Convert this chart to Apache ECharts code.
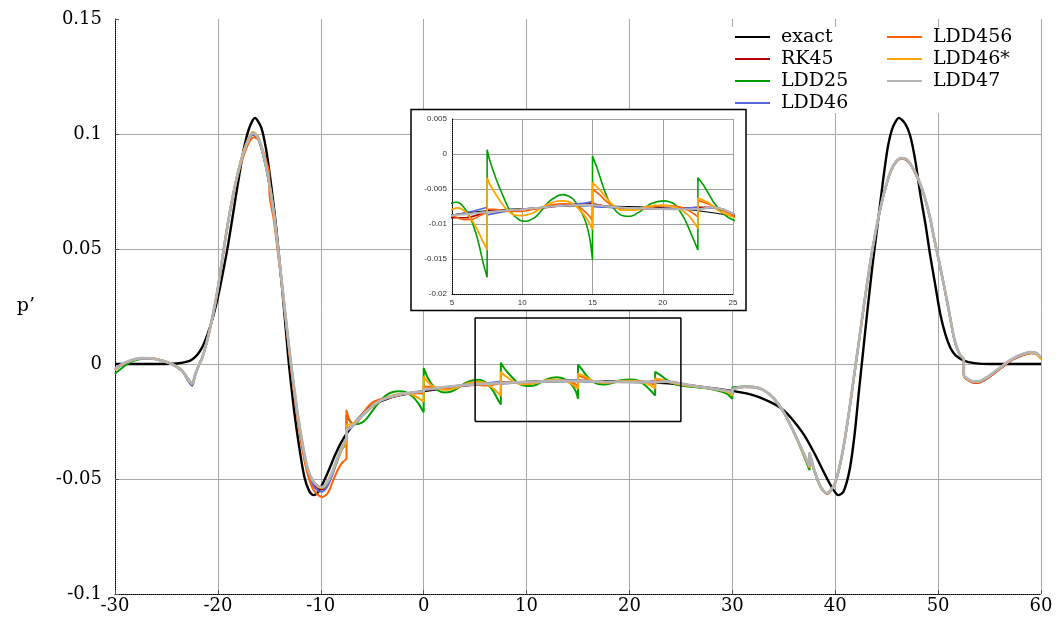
<!DOCTYPE html>
<html>
<head>
<meta charset="utf-8">
<script src="https://cdn.jsdelivr.net/npm/echarts@6/dist/echarts.min.js"></script>
<style>
  html, body { margin: 0; padding: 0; background: #fff; }
  #chart { width: 1061px; height: 626px; }
</style>
</head>
<body>
<div id="chart"></div>
<script>
// x, p' pairs (interfaces at multiples of 7.5 appear twice)
const exact = [
  [-30, 0], [-26, 0], [-24, 0.0002], [-23, 0.001], [-22.5, 0.002], [-22, 0.004], [-21.5, 0.0075], [-21, 0.013],
  [-20.5, 0.02], [-20, 0.029], [-19.5, 0.04], [-19, 0.052], [-18.5, 0.066], [-18, 0.08], [-17.5, 0.093], [-17, 0.102],
  [-16.4, 0.107], [-15.8, 0.103], [-15.3, 0.093], [-14.8, 0.077], [-14.3, 0.058], [-13.8, 0.035], [-13.4, 0.015],
  [-13.1, 0], [-12.6, -0.02], [-12.1, -0.036], [-11.6, -0.049], [-11.1, -0.0555], [-10.7, -0.057], [-10.2, -0.0553],
  [-9.7, -0.051], [-9.2, -0.046], [-8.6, -0.0395], [-8, -0.034], [-7.3, -0.029], [-6.5, -0.0245], [-5.5, -0.0198],
  [-4.5, -0.0168], [-3.5, -0.015], [-2.5, -0.0137], [-1.2, -0.0126], [0, -0.0118], [2.5, -0.0102], [5, -0.0087],
  [7.5, -0.0081], [10, -0.0078], [12.5, -0.0075], [15, -0.0074], [17.5, -0.0075], [20, -0.0077], [22.5, -0.0081],
  [25, -0.0089], [27.5, -0.0102], [30, -0.0117], [32, -0.0135], [34, -0.0172], [35, -0.0202], [36, -0.025],
  [37, -0.031], [38, -0.039], [39, -0.048], [39.7, -0.0538], [40.3, -0.057], [40.8, -0.0555], [41.4, -0.046],
  [41.9, -0.03], [42.3, -0.012], [42.7, 0.005], [43.1, 0.022], [43.6, 0.042], [44.1, 0.06], [44.6, 0.078],
  [45.1, 0.094], [45.6, 0.103], [46.2, 0.107], [46.8, 0.1045], [47.3, 0.099], [47.8, 0.088], [48.3, 0.073],
  [48.8, 0.06], [49.2, 0.048], [49.7, 0.035], [50.2, 0.022], [50.7, 0.013], [51.2, 0.007], [51.7, 0.0038],
  [52.5, 0.0015], [53.5, 0.0004], [55, 0], [60, 0]
];

const rk45 = [
  [-30, -0.0026], [-29.3, -0.0003], [-28.5, 0.0013], [-27.5, 0.0024], [-26.5, 0.0024], [-25.5, 0.0015], [-24.5, 0],
  [-23.5, -0.003], [-22.5, -0.0086], [-22.2, -0.0046], [-21.9, -0.001], [-21.5, 0.003], [-21, 0.011], [-20.5, 0.021],
  [-20, 0.033], [-19.5, 0.048], [-19, 0.062], [-18.5, 0.074], [-18, 0.084], [-17.5, 0.092], [-17, 0.0975],
  [-16.6, 0.0998], [-16.1, 0.098], [-15.6, 0.091], [-15.1, 0.0805], [-14.6, 0.0665], [-14.2, 0.0515], [-13.7, 0.0315],
  [-13.2, 0.0115], [-12.8, -0.0035], [-12.3, -0.0205], [-11.8, -0.0345], [-11.3, -0.0455], [-10.8, -0.051],
  [-10.3, -0.054], [-9.9, -0.0545], [-9.4, -0.0525], [-8.9, -0.0475], [-8.4, -0.0415], [-7.9, -0.036], [-7.5, -0.0325],
  [-7.5, -0.0283], [-7, -0.0272], [-6.5, -0.0248], [-6, -0.0226], [-5.5, -0.0204], [-5, -0.0184], [-4.5, -0.0168],
  [-4, -0.0156], [-3, -0.0141], [-2, -0.0131], [-1, -0.0124], [0, -0.0119], [0, -0.0113], [1, -0.0108], [2, -0.0102],
  [3, -0.0097], [4, -0.0094], [5, -0.0091], [6, -0.0091], [7, -0.0086], [7.5, -0.0082], [8.5, -0.0081], [10, -0.0079],
  [11.5, -0.0077], [13, -0.0073], [14.5, -0.0071], [15, -0.0071], [16, -0.0075], [17.5, -0.0078], [19, -0.0078],
  [20.5, -0.0078], [22, -0.0077], [22.5, -0.0076], [23.5, -0.0076], [24.3, -0.0079], [25, -0.0086], [26, -0.0094],
  [27.5, -0.0104], [29, -0.0114], [29.9, -0.0123], [30, -0.0132], [30, -0.0112], [30.5, -0.0104], [31.2, -0.01],
  [32, -0.0101], [33, -0.0113], [34, -0.0149], [35, -0.0211], [36, -0.0299], [37, -0.0396], [37.5, -0.0446],
  [37.5, -0.0388], [38, -0.0467], [38.6, -0.0537], [39.2, -0.0565], [39.9, -0.0528], [40.4, -0.0453], [40.9, -0.0338],
  [41.4, -0.0193], [41.9, -0.0033], [42.4, 0.0127], [42.9, 0.0287], [43.4, 0.0437], [43.9, 0.0567], [44.4, 0.0677],
  [44.9, 0.0767], [45.4, 0.0837], [45.9, 0.0877], [46.4, 0.0892], [46.8, 0.089], [47.2, 0.0874], [47.7, 0.0837],
  [48.2, 0.0787], [48.7, 0.0722], [49.2, 0.0637], [49.6, 0.0547], [50.1, 0.0442], [50.6, 0.0333], [51.1, 0.0217],
  [51.6, 0.0101], [52.1, 0.0039], [52.5, 0.0017], [52.5, -0.0052], [53, -0.0073], [53.5, -0.0082], [54, -0.0081],
  [54.8, -0.0062], [55.6, -0.0036], [56.5, -0.0005], [57.3, 0.002], [58.1, 0.0036], [59, 0.0047], [59.5, 0.0045],
  [60, 0.0027]
];

const ldd25 = [
  [-30, -0.0042], [-29.3, -0.0016], [-28.5, 0.0008], [-27.5, 0.0022], [-26.5, 0.0024], [-25.5, 0.0016], [-24.5, 0],
  [-23.5, -0.0028], [-22.5, -0.0082], [-22.2, -0.0045], [-21.9, -0.001], [-21.5, 0.003], [-21, 0.011], [-20.5, 0.021],
  [-20, 0.033], [-19.5, 0.048], [-19, 0.062], [-18.5, 0.074], [-18, 0.084], [-17.5, 0.092], [-17, 0.0976], [-16.6, 0.1],
  [-16.1, 0.098], [-15.6, 0.091], [-15.1, 0.0805], [-14.6, 0.0665], [-14.2, 0.0515], [-13.7, 0.0315], [-13.2, 0.0115],
  [-12.8, -0.0035], [-12.3, -0.0205], [-11.8, -0.0345], [-11.3, -0.0452], [-10.8, -0.0505], [-10.3, -0.0532],
  [-9.9, -0.0538], [-9.4, -0.052], [-8.9, -0.0478], [-8.4, -0.0422], [-7.9, -0.0368], [-7.5, -0.0345], [-7.5, -0.0222],
  [-7.1, -0.0252], [-6.6, -0.0262], [-6, -0.0255], [-5.5, -0.0235], [-5, -0.0205], [-4.5, -0.0175], [-4, -0.015],
  [-3.5, -0.0132], [-3, -0.0122], [-2.5, -0.0118], [-2, -0.012], [-1.5, -0.0128], [-1, -0.0145], [-0.5, -0.0172],
  [0, -0.021], [0, -0.0018], [0.4, -0.006], [0.9, -0.0095], [1.4, -0.0115], [2, -0.0124], [2.6, -0.0121], [3.2, -0.0108],
  [3.8, -0.009], [4.4, -0.0076], [5, -0.007], [5.35, -0.0069], [5.8, -0.0075], [6.3, -0.0091], [6.8, -0.012],
  [7.25, -0.0158], [7.5, -0.0176], [7.5, 0.0006], [7.7, -0.001], [8.2, -0.0039], [8.7, -0.0063], [9.15, -0.0082],
  [9.86, -0.0095], [10.3, -0.0096], [11, -0.0089], [11.8, -0.007], [12.5, -0.006], [12.95, -0.0058], [13.65, -0.0065],
  [14.4, -0.0091], [14.8, -0.012], [15, -0.0151], [15, -0.0003], [15.36, -0.0022], [15.83, -0.0051], [16.3, -0.0072],
  [17, -0.0087], [17.7, -0.0089], [18.4, -0.0082], [19.15, -0.0071], [20.1, -0.0067], [20.8, -0.0071], [21.5, -0.0091],
  [22, -0.0113], [22.5, -0.0137], [22.5, -0.0034], [22.95, -0.0046], [23.66, -0.007], [24.4, -0.0087], [25.1, -0.0095],
  [26, -0.0099], [27, -0.0104], [28, -0.011], [29, -0.0121], [29.6, -0.0133], [30, -0.0152], [30, -0.0104],
  [30.5, -0.01], [31.2, -0.0097], [32, -0.0099], [33, -0.0112], [34, -0.0148], [35, -0.021], [36, -0.03], [37, -0.0405],
  [37.5, -0.0462], [37.5, -0.039], [38, -0.047], [38.6, -0.0536], [39.2, -0.0562], [39.9, -0.0525], [40.4, -0.045],
  [40.9, -0.0335], [41.4, -0.019], [41.9, -0.003], [42.4, 0.013], [42.9, 0.029], [43.4, 0.044], [43.9, 0.057],
  [44.4, 0.068], [44.9, 0.077], [45.4, 0.084], [45.9, 0.088], [46.4, 0.0895], [46.8, 0.0893], [47.2, 0.0877],
  [47.7, 0.084], [48.2, 0.079], [48.7, 0.0725], [49.2, 0.064], [49.6, 0.055], [50.1, 0.0445], [50.6, 0.0336],
  [51.1, 0.022], [51.6, 0.0104], [52.1, 0.0042], [52.5, 0.002], [52.5, -0.005], [53, -0.0069], [53.5, -0.0077],
  [54, -0.0076], [54.8, -0.0057], [55.6, -0.0031], [56.5, 0], [57.3, 0.0025], [58.1, 0.0041], [59, 0.0051],
  [59.5, 0.0048], [60, 0.003]
];

const ldd46 = [
  [-30, -0.0024], [-29.3, -0.0002], [-28.5, 0.0014], [-27.5, 0.0024], [-26.5, 0.0024], [-25.5, 0.0015], [-24.5, -0.0001],
  [-23.5, -0.003], [-22.5, -0.0095], [-22.2, -0.005], [-21.9, -0.0012], [-21.5, 0.003], [-21, 0.011], [-20.5, 0.021],
  [-20, 0.033], [-19.5, 0.048], [-19, 0.062], [-18.5, 0.074], [-18, 0.084], [-17.5, 0.092], [-17, 0.0975],
  [-16.6, 0.0998], [-16.1, 0.098], [-15.6, 0.091], [-15.1, 0.0805], [-14.6, 0.0665], [-14.2, 0.0515], [-13.7, 0.0315],
  [-13.2, 0.0113], [-12.8, -0.004], [-12.3, -0.021], [-11.8, -0.0355], [-11.3, -0.0465], [-10.8, -0.0525],
  [-10.3, -0.055], [-9.9, -0.0555], [-9.4, -0.0535], [-8.9, -0.0485], [-8.4, -0.042], [-7.9, -0.0362], [-7.5, -0.033],
  [-7.5, -0.0295], [-7, -0.0275], [-6.5, -0.025], [-6, -0.0227], [-5.5, -0.0205], [-5, -0.0185], [-4.5, -0.0168],
  [-4, -0.0156], [-3, -0.014], [-2, -0.013], [-1, -0.0125], [0, -0.0122], [0, -0.0113], [1, -0.0107], [2, -0.0101],
  [3, -0.0096], [4, -0.0092], [5, -0.0088], [6, -0.0084], [7, -0.0079], [7.5, -0.0076], [7.5, -0.0087], [8.5, -0.0083],
  [10, -0.0079], [11.5, -0.0076], [13, -0.0073], [14.5, -0.007], [15, -0.0068], [15, -0.0075], [16, -0.0076],
  [17.5, -0.0078], [19, -0.0078], [20.5, -0.0078], [22, -0.0077], [22.5, -0.0076], [22.5, -0.0079], [23.5, -0.0077],
  [24.3, -0.0079], [25, -0.0085], [26, -0.0093], [27.5, -0.0103], [29, -0.0113], [29.9, -0.0122], [30, -0.0134],
  [30, -0.0112], [30.5, -0.0104], [31.2, -0.0099], [32, -0.01], [33, -0.0112], [34, -0.0148], [35, -0.021],
  [36, -0.0298], [37, -0.0397], [37.5, -0.0447], [37.5, -0.0386], [38, -0.0466], [38.6, -0.0536], [39.2, -0.0563],
  [39.9, -0.0526], [40.4, -0.0451], [40.9, -0.0336], [41.4, -0.0191], [41.9, -0.0031], [42.4, 0.0129], [42.9, 0.0289],
  [43.4, 0.0439], [43.9, 0.0569], [44.4, 0.0679], [44.9, 0.0769], [45.4, 0.0839], [45.9, 0.0879], [46.4, 0.0894],
  [46.8, 0.0892], [47.2, 0.0876], [47.7, 0.0839], [48.2, 0.0789], [48.7, 0.0724], [49.2, 0.0639], [49.6, 0.0549],
  [50.1, 0.0444], [50.6, 0.0335], [51.1, 0.0219], [51.6, 0.0103], [52.1, 0.0041], [52.5, 0.0019], [52.5, -0.0049],
  [53, -0.0069], [53.5, -0.0077], [54, -0.0076], [54.8, -0.0057], [55.6, -0.0031], [56.5, 0], [57.3, 0.0024],
  [58.1, 0.004], [59, 0.0051], [59.5, 0.0048], [60, 0.0029]
];

const ldd456 = [
  [-30, -0.0024], [-29.3, -0.0002], [-28.5, 0.0014], [-27.5, 0.0025], [-26.5, 0.0025], [-25.5, 0.0016], [-24.5, 0],
  [-23.5, -0.0028], [-22.5, -0.0083], [-22.2, -0.0045], [-21.9, -0.001], [-21.5, 0.003], [-21, 0.0105], [-20.5, 0.0205],
  [-20, 0.0325], [-19.5, 0.0475], [-19, 0.0615], [-18.5, 0.0735], [-18, 0.0832], [-17.5, 0.0905], [-17, 0.0962],
  [-16.5, 0.0986], [-16, 0.0973], [-15.5, 0.0912], [-15, 0.0825], [-15, 0.0745], [-14.6, 0.0635], [-14.2, 0.0495],
  [-13.7, 0.0305], [-13.2, 0.0105], [-12.8, -0.0055], [-12.3, -0.0228], [-11.8, -0.037], [-11.3, -0.0475],
  [-10.8, -0.054], [-10.3, -0.0568], [-9.8, -0.0578], [-9.3, -0.056], [-8.9, -0.0518], [-8.4, -0.0465], [-7.9, -0.0428],
  [-7.5, -0.041], [-7.5, -0.0202], [-7.2, -0.0243], [-6.8, -0.0262], [-6.3, -0.0245], [-5.8, -0.0208], [-5.3, -0.018],
  [-4.8, -0.0163], [-4.2, -0.0153], [-3.5, -0.0147], [-3, -0.0142], [-2.5, -0.0137], [-2, -0.0131], [-1.5, -0.0128],
  [-1, -0.0127], [-0.5, -0.0127], [0, -0.0128], [0, -0.0098], [0.5, -0.0099], [1, -0.0101], [1.5, -0.0104],
  [2, -0.0105], [2.5, -0.0103], [3, -0.0098], [3.5, -0.0093], [4, -0.009], [4.5, -0.0088], [5, -0.0088], [5.5, -0.0092],
  [6, -0.0094], [6.5, -0.0093], [7, -0.0088], [7.5, -0.0082], [7.5, -0.0079], [8, -0.0079], [9, -0.0082], [10, -0.0082],
  [11, -0.0078], [12, -0.0073], [13, -0.0071], [14, -0.0075], [14.7, -0.0087], [15, -0.0095], [15, -0.005],
  [15.5, -0.0058], [16, -0.0068], [16.7, -0.0077], [17.5, -0.008], [18.5, -0.0079], [19.5, -0.0075], [20.5, -0.0074],
  [21.5, -0.0077], [22.2, -0.0085], [22.5, -0.009], [22.5, -0.0066], [23.2, -0.0071], [24, -0.0078], [25, -0.0087],
  [26, -0.0095], [27.5, -0.0104], [29, -0.0114], [29.9, -0.0123], [30, -0.0135], [30, -0.0111], [30.5, -0.0104],
  [31.2, -0.0099], [32, -0.01], [33, -0.0112], [34, -0.0148], [35, -0.021], [36, -0.0298], [37, -0.0396],
  [37.5, -0.0448], [37.5, -0.0387], [38, -0.0466], [38.6, -0.0536], [39.2, -0.0564], [39.9, -0.0527], [40.4, -0.0452],
  [40.9, -0.0337], [41.4, -0.0192], [41.9, -0.0032], [42.4, 0.0128], [42.9, 0.0288], [43.4, 0.0438], [43.9, 0.0568],
  [44.4, 0.0678], [44.9, 0.0768], [45.4, 0.0838], [45.9, 0.0878], [46.4, 0.0893], [46.8, 0.0891], [47.2, 0.0875],
  [47.7, 0.0838], [48.2, 0.0788], [48.7, 0.0723], [49.2, 0.0638], [49.6, 0.0548], [50.1, 0.0443], [50.6, 0.0334],
  [51.1, 0.0218], [51.6, 0.0102], [52.1, 0.004], [52.5, 0.0018], [52.5, -0.0052], [53, -0.0072], [53.5, -0.008],
  [54, -0.0079], [54.8, -0.006], [55.6, -0.0034], [56.5, -0.0003], [57.3, 0.0022], [58.1, 0.0038], [59, 0.0049],
  [59.5, 0.0046], [60, 0.0025]
];

const ldd46s = [
  [-30, -0.0026], [-29.3, -0.0003], [-28.5, 0.0014], [-27.5, 0.0026], [-26.5, 0.0026], [-25.5, 0.0017], [-24.5, 0.0001],
  [-23.5, -0.0027], [-22.5, -0.0088], [-22.2, -0.0046], [-21.9, -0.001], [-21.5, 0.003], [-21, 0.011], [-20.5, 0.0212],
  [-20, 0.0333], [-19.5, 0.0483], [-19, 0.0623], [-18.5, 0.0743], [-18, 0.0845], [-17.5, 0.0927], [-17, 0.0985],
  [-16.6, 0.101], [-16.1, 0.099], [-15.6, 0.092], [-15.1, 0.0815], [-14.6, 0.0675], [-14.2, 0.0525], [-13.7, 0.0325],
  [-13.2, 0.0122], [-12.8, -0.0028], [-12.3, -0.0198], [-11.8, -0.0338], [-11.3, -0.0448], [-10.8, -0.0505],
  [-10.3, -0.0532], [-9.9, -0.0538], [-9.4, -0.052], [-8.9, -0.0475], [-8.4, -0.0418], [-7.9, -0.0365], [-7.5, -0.034],
  [-7.5, -0.0265], [-7, -0.0262], [-6.5, -0.0245], [-6, -0.0225], [-5.5, -0.0205], [-5, -0.0186], [-4.5, -0.0168],
  [-4, -0.0154], [-3, -0.0136], [-2, -0.0128], [-1.5, -0.0128], [-1, -0.0136], [-0.5, -0.0148], [0, -0.0164],
  [0, -0.0055], [0.4, -0.0078], [0.9, -0.0097], [1.5, -0.0109], [2.2, -0.0113], [3, -0.0106], [3.8, -0.0093],
  [4.4, -0.0083], [5, -0.0079], [5.4, -0.0077], [5.8, -0.008], [6.3, -0.0091], [6.8, -0.0108], [7.25, -0.0127],
  [7.5, -0.0137], [7.5, -0.0034], [7.7, -0.0044], [8.2, -0.006], [8.7, -0.0075], [9.4, -0.0087], [10, -0.0088],
  [10.8, -0.0084], [11.8, -0.0072], [12.7, -0.0067], [13.4, -0.0069], [14.1, -0.008], [14.7, -0.0096], [15, -0.0108],
  [15, -0.0041], [15.6, -0.0053], [16.3, -0.007], [17, -0.008], [18, -0.008], [18.9, -0.0075], [20.1, -0.0073],
  [21, -0.0077], [21.8, -0.0087], [22.5, -0.0106], [22.5, -0.0063], [23.2, -0.0069], [23.9, -0.008], [25, -0.009],
  [26, -0.0096], [27.5, -0.0104], [29, -0.0115], [29.7, -0.0125], [30, -0.0138], [30, -0.011], [30.5, -0.0103],
  [31.2, -0.0099], [32, -0.0101], [33, -0.0113], [34, -0.0149], [35, -0.0211], [36, -0.03], [37, -0.04], [37.5, -0.045],
  [37.5, -0.039], [38, -0.0467], [38.6, -0.0536], [39.2, -0.0563], [39.9, -0.0526], [40.4, -0.0451], [40.9, -0.0336],
  [41.4, -0.0191], [41.9, -0.0031], [42.4, 0.0129], [42.9, 0.0289], [43.4, 0.0439], [43.9, 0.0569], [44.4, 0.0679],
  [44.9, 0.0769], [45.4, 0.0839], [45.9, 0.0879], [46.4, 0.0895], [46.8, 0.0893], [47.2, 0.0877], [47.7, 0.084],
  [48.2, 0.079], [48.7, 0.0725], [49.2, 0.064], [49.6, 0.055], [50.1, 0.0445], [50.6, 0.0336], [51.1, 0.022],
  [51.6, 0.0104], [52.1, 0.0042], [52.5, 0.002], [52.5, -0.0051], [53, -0.007], [53.5, -0.0078], [54, -0.0077],
  [54.8, -0.0058], [55.6, -0.0032], [56.5, -0.0001], [57.3, 0.0023], [58.1, 0.0039], [59, 0.0048], [59.5, 0.0044],
  [60, 0.002]
];

const ldd47 = [
  [-30, -0.0022], [-29.3, 0], [-28.5, 0.0015], [-27.5, 0.0025], [-26.5, 0.0024], [-25.5, 0.0015], [-24.5, 0],
  [-23.5, -0.0028], [-22.5, -0.0084], [-22.2, -0.0045], [-21.9, -0.001], [-21.5, 0.003], [-21, 0.011], [-20.5, 0.021],
  [-20, 0.033], [-19.5, 0.048], [-19, 0.062], [-18.5, 0.074], [-18, 0.084], [-17.5, 0.092], [-17, 0.0978],
  [-16.6, 0.1005], [-16.1, 0.0985], [-15.6, 0.0915], [-15.1, 0.081], [-14.6, 0.067], [-14.2, 0.052], [-13.7, 0.032],
  [-13.2, 0.012], [-12.8, -0.003], [-12.3, -0.02], [-11.8, -0.034], [-11.3, -0.045], [-10.8, -0.0505], [-10.3, -0.053],
  [-9.9, -0.0535], [-9.4, -0.0515], [-8.9, -0.047], [-8.4, -0.041], [-7.9, -0.0355], [-7.5, -0.032], [-7.5, -0.029],
  [-7, -0.0272], [-6.5, -0.0248], [-6, -0.0225], [-5.5, -0.0203], [-5, -0.0183], [-4.5, -0.0167], [-4, -0.0155],
  [-3, -0.014], [-2, -0.013], [-1, -0.0123], [0, -0.0118], [0, -0.0112], [1, -0.0107], [2, -0.0101], [3, -0.0096],
  [4, -0.0092], [5, -0.0088], [6, -0.0086], [7, -0.0084], [7.5, -0.0083], [8.5, -0.0081], [10, -0.0079],
  [11.5, -0.0076], [13, -0.0074], [14.5, -0.0073], [15, -0.0073], [16, -0.0075], [17.5, -0.0077], [19, -0.0078],
  [20.5, -0.0079], [22, -0.0079], [22.5, -0.0079], [23.5, -0.0076], [24.3, -0.0079], [25, -0.0085], [26, -0.0093],
  [27.5, -0.0103], [29, -0.0113], [29.9, -0.0122], [30, -0.0133], [30, -0.0112], [30.5, -0.0104], [31.2, -0.0099],
  [32, -0.01], [33, -0.0112], [34, -0.0148], [35, -0.021], [36, -0.0298], [37, -0.0395], [37.5, -0.0445],
  [37.5, -0.0385], [38, -0.0465], [38.6, -0.0535], [39.2, -0.0562], [39.9, -0.0525], [40.4, -0.045], [40.9, -0.0335],
  [41.4, -0.019], [41.9, -0.003], [42.4, 0.013], [42.9, 0.029], [43.4, 0.044], [43.9, 0.057], [44.4, 0.068],
  [44.9, 0.077], [45.4, 0.084], [45.9, 0.088], [46.4, 0.0895], [46.8, 0.0893], [47.2, 0.0877], [47.7, 0.084],
  [48.2, 0.079], [48.7, 0.0725], [49.2, 0.064], [49.6, 0.055], [50.1, 0.0445], [50.6, 0.0336], [51.1, 0.022],
  [51.6, 0.0104], [52.1, 0.0042], [52.5, 0.002], [52.5, -0.0048], [53, -0.0068], [53.5, -0.0076], [54, -0.0075],
  [54.8, -0.0056], [55.6, -0.003], [56.5, 0], [57.3, 0.0025], [58.1, 0.0041], [59, 0.0052], [59.5, 0.0049], [60, 0.003]
];

// zoom window drawn in the main plot (same range as the inset)
const zoomBox = [[5, -0.025], [25, -0.025], [25, 0.02], [5, 0.02], [5, -0.025]];

const curves = [
  { name: 'exact', data: exact, color: '#000000', width: 2.4, inset: 1.1 },
  { name: 'RK45', data: rk45, color: '#b80000', width: 2, inset: 1.6 },
  { name: 'LDD25', data: ldd25, color: '#00a000', width: 2, inset: 1.6 },
  { name: 'LDD46', data: ldd46, color: '#5566dd', width: 2, inset: 1.6 },
  { name: 'LDD456', data: ldd456, color: '#ff6000', width: 2, inset: 1.6 },
  { name: 'LDD46*', data: ldd46s, color: '#ffa500', width: 2, inset: 1.8 },
  { name: 'LDD47', data: ldd47, color: '#b4b4b4', width: 2.8, inset: 2 }
];

const serif = 'DejaVu Serif';
const chart = echarts.init(document.getElementById('chart'));

const series = [];
curves.forEach(c => {
  series.push({
    name: c.name, type: 'line', data: c.data, xAxisIndex: 0, yAxisIndex: 0,
    symbol: 'none', smooth: 0.25, z: 2,
    lineStyle: { color: c.color, width: c.width }, itemStyle: { color: c.color },
    emphasis: { disabled: true }
  });
});
series.push({
  name: 'box', type: 'line', data: zoomBox, xAxisIndex: 0, yAxisIndex: 0,
  symbol: 'none', z: 3, lineStyle: { color: '#000', width: 1.5 }, emphasis: { disabled: true }
});
curves.forEach(c => {
  series.push({
    name: c.name, type: 'line', data: c.data, xAxisIndex: 1, yAxisIndex: 1,
    symbol: 'none', smooth: 0.25, z: 12, clip: true,
    lineStyle: { color: c.color, width: c.inset }, itemStyle: { color: c.color },
    emphasis: { disabled: true }
  });
});

const legendText = { fontFamily: serif, fontSize: 19, color: '#000', lineHeight: 22, padding: [0, 0, 0, 6] };
const legendBase = {
  orient: 'vertical', top: 26, padding: 0, icon: 'rect',
  itemWidth: 35, itemHeight: 2, itemGap: 0, textStyle: legendText, selectedMode: false, z: 20
};

chart.setOption({
  backgroundColor: '#fff',
  animation: false,
  grid: [
    { left: 115, right: 20, top: 19, bottom: 32, outerBoundsMode: 'none' },
    { left: 452, top: 119, width: 281, height: 175, outerBoundsMode: 'none', z: 11 }
  ],
  xAxis: [
    {
      type: 'value', min: -30, max: 60, interval: 10, gridIndex: 0,
      axisLine: { show: true, onZero: false, lineStyle: { color: '#000', width: 1, type: [1, 1] } },
      axisTick: { show: true, inside: true, length: 4, lineStyle: { color: '#555' } },
      axisLabel: { color: '#000', fontFamily: serif, fontSize: 18, margin: 3, showMinLabel: true, showMaxLabel: true },
      splitLine: { show: true, lineStyle: { color: '#a8a8a8', width: 1 } }
    },
    {
      type: 'value', min: 5, max: 25, interval: 5, gridIndex: 1, z: 11,
      axisLine: { show: true, onZero: false, lineStyle: { color: '#000', width: 1, type: [1, 1] } },
      axisTick: { show: false },
      axisLabel: { color: '#333', fontFamily: 'Liberation Sans', fontSize: 8, margin: 5, showMinLabel: true, showMaxLabel: true },
      splitLine: { show: true, lineStyle: { color: '#a0a0a0', width: 1 } }
    }
  ],
  yAxis: [
    {
      type: 'value', min: -0.1, max: 0.15, interval: 0.05, gridIndex: 0,
      name: 'p’', nameLocation: 'middle', nameRotate: 0, nameGap: 80,
      nameTextStyle: { fontFamily: serif, fontSize: 19, color: '#000' },
      axisLine: { show: true, onZero: false, lineStyle: { color: '#000', width: 1, type: [1, 1] } },
      axisTick: { show: true, inside: true, length: 4, lineStyle: { color: '#555' } },
      axisLabel: { color: '#000', fontFamily: serif, fontSize: 18, margin: 13, showMinLabel: true, showMaxLabel: true },
      splitLine: { show: true, showMaxLine: false, lineStyle: { color: '#a8a8a8', width: 1 } }
    },
    {
      type: 'value', min: -0.02, max: 0.005, interval: 0.005, gridIndex: 1, z: 11,
      axisLine: { show: true, onZero: false, lineStyle: { color: '#000', width: 1, type: [1, 1] } },
      axisTick: { show: false },
      axisLabel: { color: '#333', fontFamily: 'Liberation Sans', fontSize: 8, margin: 5, showMinLabel: true, showMaxLabel: true },
      splitLine: { show: true, lineStyle: { color: '#a0a0a0', width: 1 } }
    }
  ],
  legend: [
    Object.assign({ data: ['exact', 'RK45', 'LDD25', 'LDD46'], left: 735 }, legendBase),
    Object.assign({ data: ['LDD456', 'LDD46*', 'LDD47'], left: 887 }, legendBase)
  ],
  graphic: [
    { type: 'rect', z: 3, shape: { x: 727, y: 27, width: 307, height: 86 }, style: { fill: '#fff' } },
    { type: 'rect', z: 10, shape: { x: 411, y: 109.5, width: 335, height: 201 }, style: { fill: '#fff', stroke: '#000', lineWidth: 1.5 } }
  ],
  series: series
});
</script>
</body>
</html>
